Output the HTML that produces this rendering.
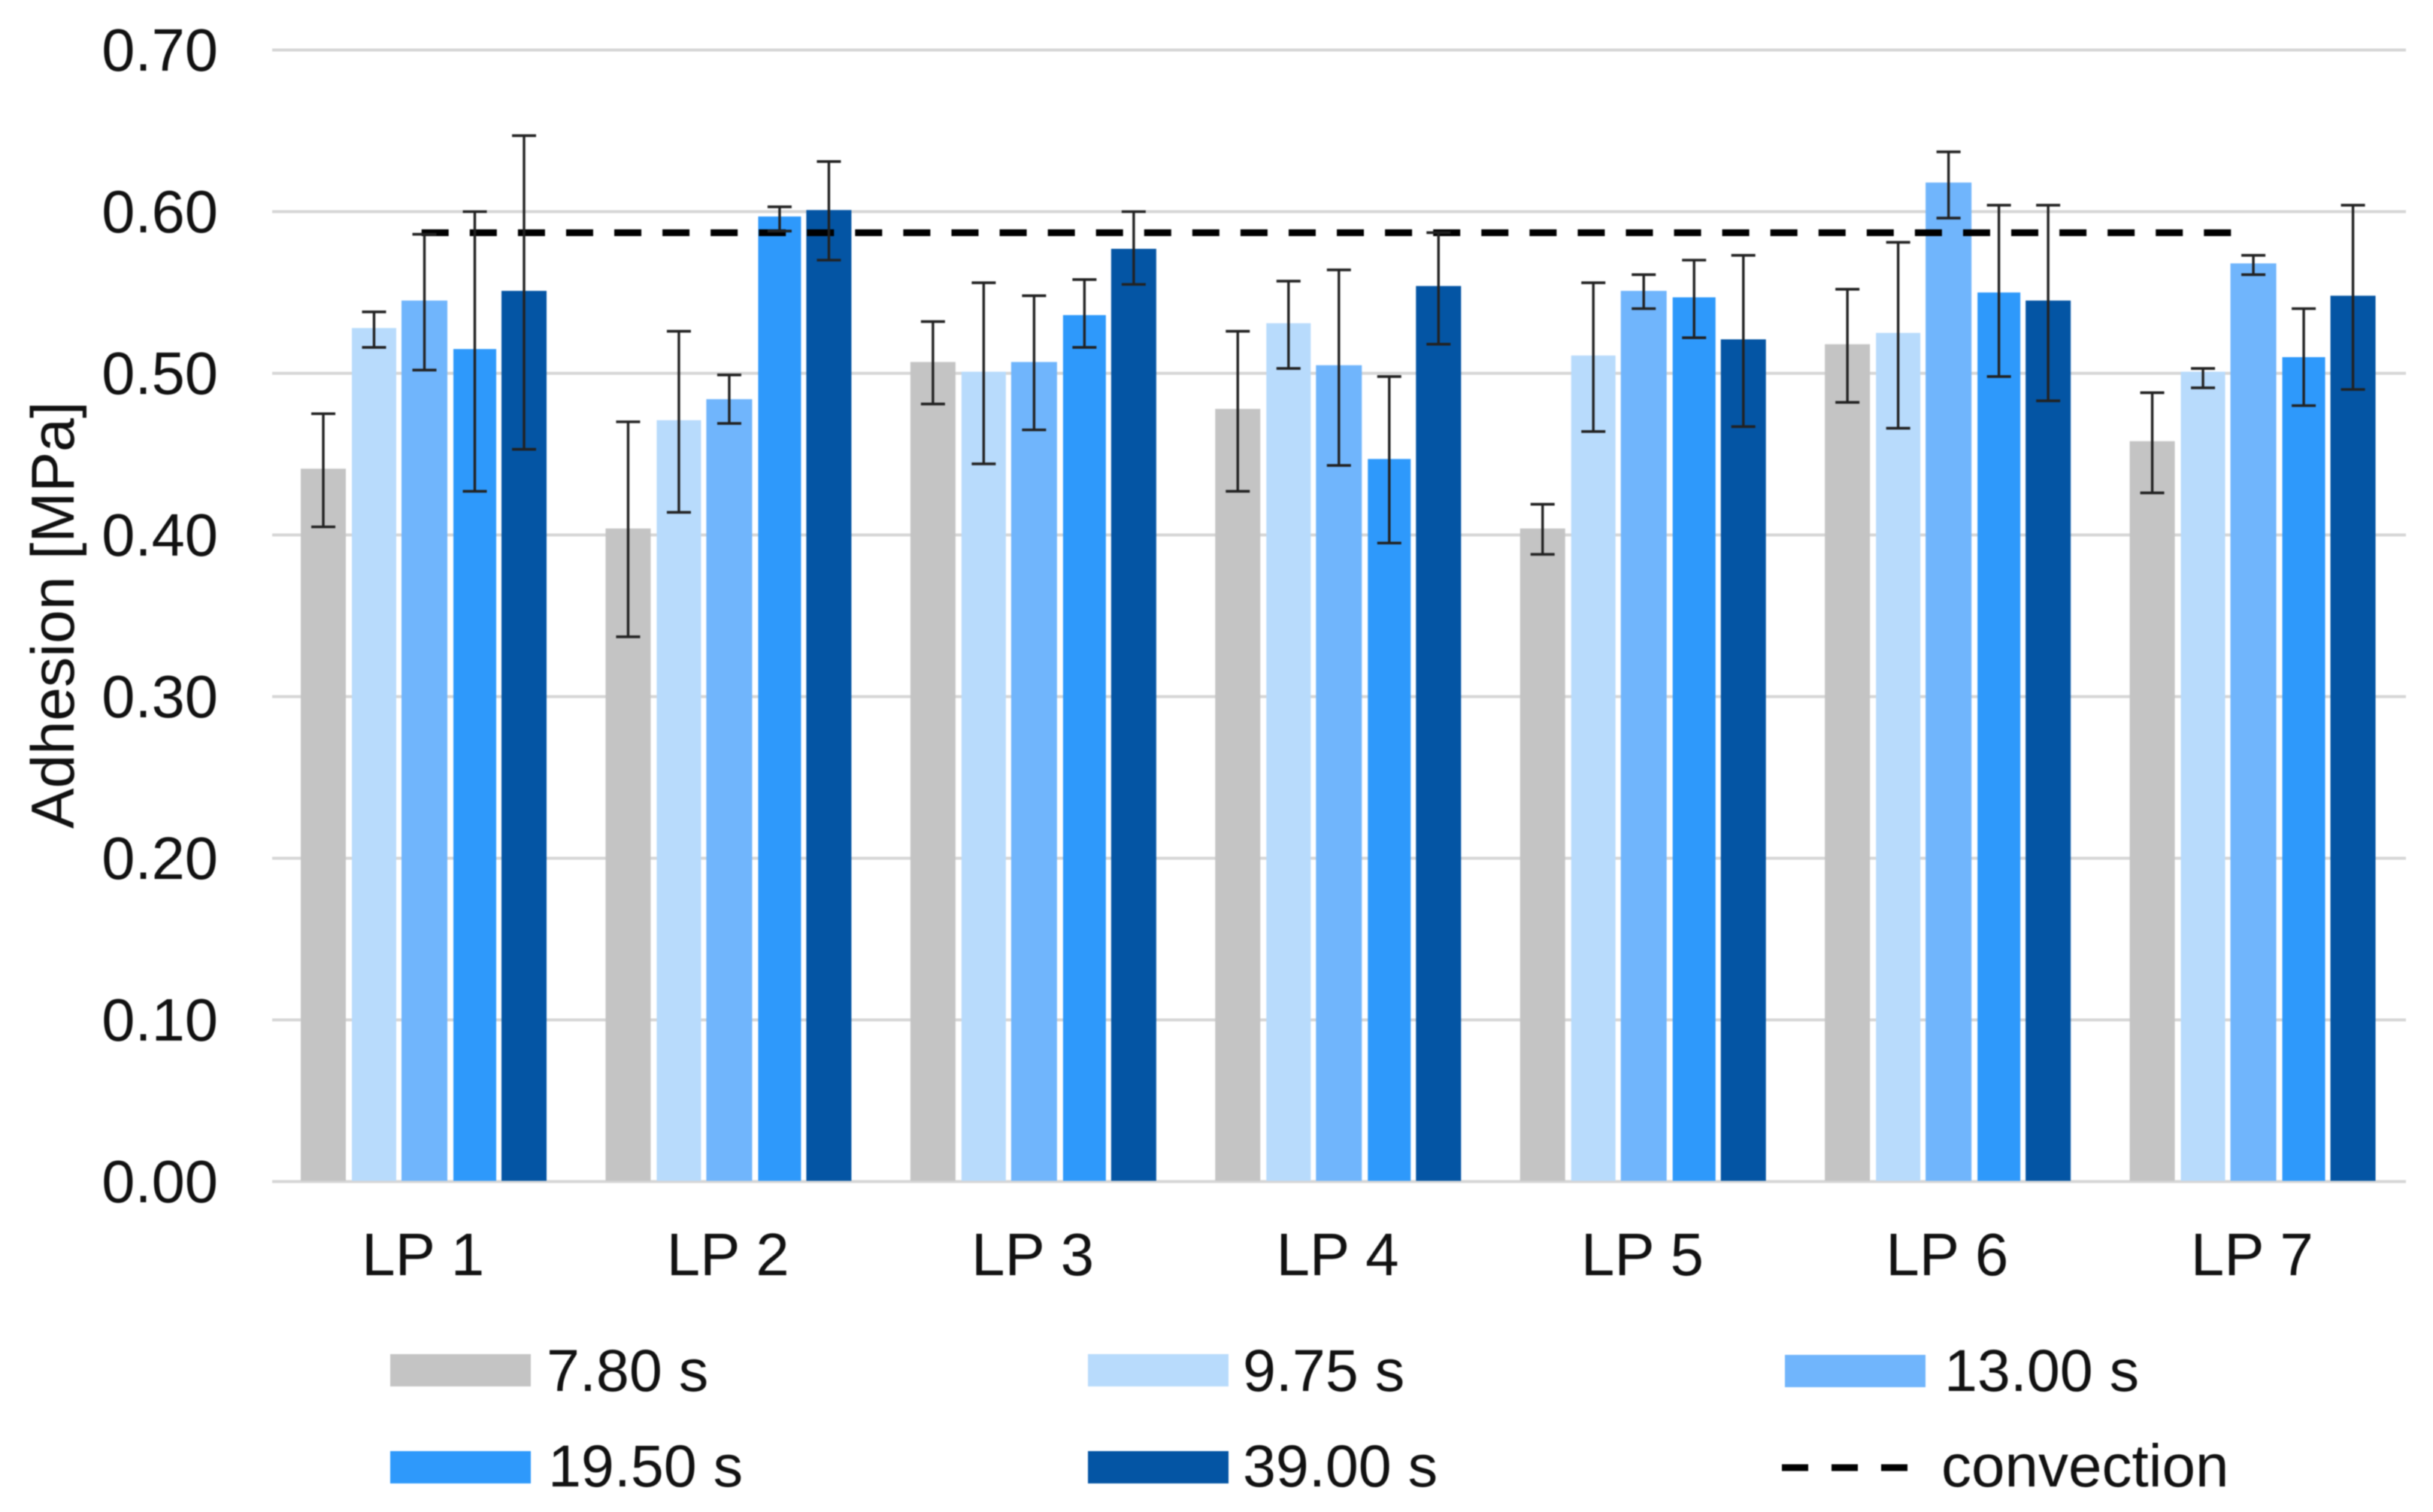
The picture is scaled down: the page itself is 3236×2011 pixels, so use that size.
<!DOCTYPE html>
<html lang="en">
<head>
<meta charset="utf-8">
<title>Adhesion by LP and exposure time</title>
<style>
html,body{margin:0;padding:0;background:#fff;}
svg{display:block;font-family:"Liberation Sans",Arial,sans-serif;filter:blur(0.8px);}
</style>
</head>
<body>
<svg id="chart" xmlns="http://www.w3.org/2000/svg" width="3236" height="2011" viewBox="0 0 3236 2011">
  <rect x="0" y="0" width="3236" height="2011" fill="#ffffff"/>
</svg>
<script>
const categories = ['LP 1','LP 2','LP 3','LP 4','LP 5','LP 6','LP 7'];
const yTicks = [0, 0.1, 0.2, 0.3, 0.4, 0.5, 0.6, 0.7];
const seriesLabels = ['7.80 s','9.75 s','13.00 s','19.50 s','39.00 s'];
const convectionLabel = 'convection';

const values780  = [0.441,0.404,0.507,0.478,0.404,0.518,0.458];
const values975  = [0.528,0.471,0.501,0.531,0.511,0.525,0.501];
const values1300 = [0.545,0.484,0.507,0.505,0.551,0.618,0.568];
const values1950 = [0.515,0.597,0.536,0.447,0.547,0.550,0.510];
const values3900 = [0.551,0.601,0.577,0.554,0.521,0.545,0.548];

const upper780  = [0.475,0.470,0.532,0.526,0.419,0.552,0.488];
const upper975  = [0.538,0.526,0.556,0.557,0.556,0.581,0.503];
const upper1300 = [0.586,0.499,0.548,0.564,0.561,0.637,0.573];
const upper1950 = [0.600,0.603,0.558,0.498,0.570,0.604,0.540];
const upper3900 = [0.647,0.631,0.600,0.587,0.573,0.604,0.604];

const lower780  = [0.405,0.337,0.481,0.427,0.388,0.482,0.426];
const lower975  = [0.516,0.414,0.444,0.503,0.464,0.466,0.491];
const lower1300 = [0.502,0.469,0.465,0.443,0.540,0.596,0.561];
const lower1950 = [0.427,0.588,0.516,0.395,0.522,0.498,0.480];
const lower3900 = [0.453,0.570,0.555,0.518,0.467,0.483,0.490];

const convection = [0.587,0.587,0.587,0.587,0.587,0.587,0.587];

const svg = document.getElementById('chart');
const NS = 'http://www.w3.org/2000/svg';

function make(tag, props, text) {
  const el = document.createElementNS(NS, tag);
  for (const k in props) el.setAttribute(k, props[k]);
  if (text !== undefined) el.textContent = text;
  svg.appendChild(el);
  return el;
}

const plotLeft = 362, plotRight = 3200;
const groupWidth = (plotRight - plotLeft) / categories.length;
function yScale(v) { return 1571.5 - v * 2150; }
function groupX(i) { return plotLeft + groupWidth * i; }
function centerX(i) { return groupX(i) + groupWidth / 2; }

const colors = ['#c4c4c4','#b8dbfc','#70b5fc','#2e99fb','#0455a4'];
const barOffsets = [38,106,172,241,305];
const barWidths = [60,59,61,57,60];
const allValues = [values780,values975,values1300,values1950,values3900];
const allUpper = [upper780,upper975,upper1300,upper1950,upper3900];
const allLower = [lower780,lower975,lower1300,lower1950,lower3900];

// gridlines and y ticks
yTicks.forEach(function (t) {
  const line = make('line', {x1: plotLeft, x2: plotRight, y1: yScale(t), y2: yScale(t), stroke: '#d6d6d6', 'stroke-width': 4});
  
  
  const label = make('text', {x: 290, y: yScale(t) + 27.5, 'text-anchor': 'end', 'font-size': 79.5, fill: '#111'}, t.toFixed(2));
  
  
});

// y title
const yTitle = make('text', {x: 0, y: 0, transform: 'translate(98 818) rotate(-90)', 'text-anchor': 'middle', 'font-size': 80.5, fill: '#111'}, 'Adhesion [MPa]');



// bars
allValues.forEach(function (series, s) {
  series.forEach(function (v, i) {
    const bar = make('rect', {x: groupX(i) + barOffsets[s], y: yScale(v), width: barWidths[s], height: yScale(0) - yScale(v) - 1, fill: colors[s]});
    
    
  });
});

// convection dashed line
const convPoints = convection.map(function (v, i) {
  const shift = i === 0 ? -4 : (i === convection.length - 1 ? -5 : 0);
  return (centerX(i) + shift) + ',' + yScale(v);
}).join(' ');
const convLine = make('polyline', {points: convPoints, fill: 'none', stroke: '#000', 'stroke-width': 9, 'stroke-dasharray': '36 28.07'});



// error bars
allValues.forEach(function (series, s) {
  series.forEach(function (v, i) {
    const cx = groupX(i) + barOffsets[s] + barWidths[s] / 2;
    const errStem = make('line', {x1: cx, x2: cx, y1: yScale(allUpper[s][i]), y2: yScale(allLower[s][i]), stroke: '#222', 'stroke-width': 3.4});
    
    
    const capTop = make('line', {x1: cx - 16, x2: cx + 16, y1: yScale(allUpper[s][i]), y2: yScale(allUpper[s][i]), stroke: '#222', 'stroke-width': 3.6});
    
    
    const capBottom = make('line', {x1: cx - 16, x2: cx + 16, y1: yScale(allLower[s][i]), y2: yScale(allLower[s][i]), stroke: '#222', 'stroke-width': 3.6});
    
    
  });
});

// category labels
categories.forEach(function (c, i) {
  const label = make('text', {x: centerX(i) - 2, y: 1696, 'text-anchor': 'middle', 'font-size': 80, fill: '#111'}, c);
  
  
});

// legend
const legendSwatchX = [519,1447,2374,519,1447];
const legendTextX = [727,1653,2586,729,1653];
const legendSwatchY = [1801,1801,1802,1930,1930];
const legendBaseline = [1850,1850,1850,1977,1977];
seriesLabels.forEach(function (name, s) {
  const swatch = make('rect', {x: legendSwatchX[s], y: legendSwatchY[s], width: 187, height: 43, fill: colors[s]});
  
  
  const label = make('text', {x: legendTextX[s], y: legendBaseline[s], 'font-size': 79, fill: '#111'}, name);
  
  
});
const legendDash = make('line', {x1: 2370, x2: 2537, y1: 1952, y2: 1952, stroke: '#000', 'stroke-width': 9, 'stroke-dasharray': '35 31'});


const legendConv = make('text', {x: 2582, y: 1977, 'font-size': 80, fill: '#111'}, convectionLabel);


</script>
</body>
</html>
